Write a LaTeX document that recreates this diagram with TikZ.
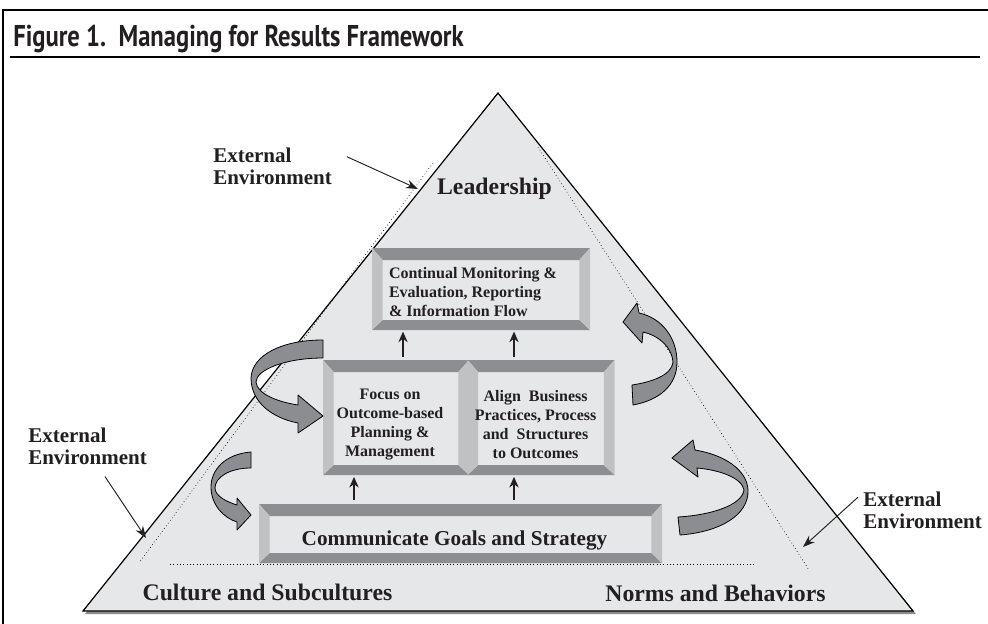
\documentclass[tikz,border=0pt]{standalone}
\usepackage{fontspec}
\setmainfont{Liberation Serif}
\newfontfamily\titlefont[FakeStretch=0.82]{PT Sans}
\usetikzlibrary{arrows.meta,positioning}
\definecolor{pyramid}{RGB}{230,231,232}
\definecolor{bevdark}{RGB}{141,142,145}
\definecolor{bevlight}{RGB}{192,193,195}
\definecolor{ribbon}{RGB}{140,141,144}
\definecolor{ink}{RGB}{35,31,32}
\newcommand{\bevelpaint}{%
  \path (path picture bounding box.north west) coordinate (bnw)
        (path picture bounding box.north east) coordinate (bne)
        (path picture bounding box.south west) coordinate (bsw)
        (path picture bounding box.south east) coordinate (bse);
  \fill[bevdark] (bnw) -- (bne) -- ([shift={(-8pt,-9pt)}]bne) -- ([shift={(8pt,-9pt)}]bnw) -- cycle;
  \fill[bevdark] (bsw) -- (bse) -- ([shift={(-8pt,7.5pt)}]bse) -- ([shift={(8pt,7.5pt)}]bsw) -- cycle;
  \fill[bevlight] (bnw) -- ([shift={(8pt,-9pt)}]bnw) -- ([shift={(8pt,7.5pt)}]bsw) -- (bsw) -- cycle;
  \fill[bevlight] (bne) -- ([shift={(-8pt,-9pt)}]bne) -- ([shift={(-8pt,7.5pt)}]bse) -- (bse) -- cycle;}
\tikzset{
  bevelnode/.style={rectangle, fill=pyramid, inner sep=0pt, path picture={\bevelpaint}},
  boxtext/.style={align=center, inner sep=0pt, text=ink, font=\bfseries\fontsize{12}{14.25}\selectfont},
  layer/.style={inner sep=0pt, text=ink, font=\bfseries\fontsize{17.8}{20}\selectfont},
  envlabel/.style={align=left, inner sep=0pt, anchor=west, text=ink, font=\bfseries\fontsize{15.75}{16.5}\selectfont},
  arrow/.style={>={Stealth[length=8pt,width=7pt]}, ->, line width=0.9pt, draw=ink},
  envarrow/.style={>={Stealth[length=9pt,width=6.5pt]}, ->, line width=0.7pt, draw=ink},
  ribbonarrow/.style={fill=ribbon, draw=black, line width=0.6pt, line join=round},
  guide/.style={dotted, line width=0.5pt}
}
\begin{document}
\begin{tikzpicture}[x=0.75pt,y=-0.75pt]
  \useasboundingbox (0,0) rectangle (988,624);
  \draw[line width=1.8pt] (3,624) -- (3,10) -- (988,10);
  \node[anchor=base west, inner sep=0pt, text=ink, font=\titlefont\bfseries\fontsize{22.5}{26}\selectfont] (title) at (13,47) {Figure 1.\ \ Managing for Results Framework};
  \draw[line width=0.8pt] (10,57) -- (980,57);

  \fill[black!45] (500,96) -- (85,614) -- (916,614) -- cycle;
  \filldraw[fill=pyramid, draw=black, line width=0.9pt] (498,93) -- (83,611) -- (913,611) -- cycle;
  \draw[guide] (433,163) -- (139,563);
  \draw[guide] (538,147) -- (809,570);
  \draw[guide] (170,564) -- (755,564);

  \node[layer] (leadership) at (494.5,189) {Leadership};
  \node[layer] (culture) at (267.5,592) {Culture and Subcultures};
  \node[layer] (norms) at (715.5,593) {Norms and Behaviors};

  \node[bevelnode, minimum width=163.5pt, minimum height=61.5pt] (monitor) at (481,289) {};
  \node[bevelnode, minimum width=109.5pt, minimum height=86.25pt] (focus) at (396,417.5) {};
  \node[bevelnode, minimum width=110.25pt, minimum height=86.25pt, right=-1.5pt of focus] (practices) {};
  \node[bevelnode, minimum width=302.25pt, minimum height=44.25pt] (comm) at (460.5,533.5) {};

  \node[boxtext, align=left, anchor=west] (monitortext) at ([shift={(12.75pt,-2.6pt)}]monitor.west) {Continual Monitoring \&\\Evaluation, Reporting\\\& Information Flow};
  \node[boxtext] (focustext) at ([shift={(-4.5pt,-5.25pt)}]focus.center) {Focus on\\Outcome-based\\Planning \&\\Management};
  \node[boxtext] (practicestext) at ([shift={(-4.1pt,-5.25pt)}]practices.center) {Align\ \ Business\\Practices, Process\\and\ \ Structures\\to Outcomes};
  \node[boxtext, font=\bfseries\fontsize{15.9}{18}\selectfont] (commtext) at ([shift={(-4.5pt,-5.6pt)}]comm.center) {Communicate Goals and Strategy};

  \coordinate (xa) at (403,0);
  \coordinate (xb) at (514,0);
  \coordinate (xc) at (354,0);
  \draw[arrow, shorten <=2.25pt, shorten >=1pt] (focus.north -| xa) -- (monitor.south -| xa);
  \draw[arrow, shorten <=2.25pt, shorten >=1pt] (practices.north -| xb) -- (monitor.south -| xb);
  \draw[arrow, shorten <=3pt, shorten >=1.2pt] (comm.north -| xc) -- (focus.south -| xc);
  \draw[arrow, shorten <=3pt, shorten >=1.2pt] (comm.north -| xb) -- (practices.south -| xb);

  \node[envlabel] (ext1) at (213,166) {External\\Environment};
  \node[envlabel] (ext2) at (28,446.5) {External\\Environment};
  \node[envlabel] (ext3) at (863,510.5) {External\\Environment};
  \coordinate (t1) at (418,189);
  \coordinate (t2) at (146,538);
  \coordinate (t3) at (803,547);
  \draw[envarrow] ([shift={(11pt,7pt)}]ext1.east) -- (t1);
  \draw[envarrow] ([shift={(13pt,-8.5pt)}]ext2.south) -- (t2);
  \draw[envarrow] ([shift={(-3.75pt,-4pt)}]ext3.north west) -- (t3);

  \filldraw[ribbonarrow] (323,340) .. controls (282,340) and (252,355) .. (251,378) .. controls (251,402) and (272,418) .. (298,423) -- (298,433) -- (323,416) -- (298,395) -- (298,405) .. controls (278,402) and (257,394) .. (256,382) .. controls (256,370) and (285,358) .. (323,358) -- cycle;
  \filldraw[ribbonarrow] (251,452) .. controls (225,454) and (211,470) .. (211,487) .. controls (211,505) and (224,518) .. (237,522) -- (237,530) -- (251,515) -- (237,498) -- (237,505) .. controls (227,502) and (215,496) .. (215,488) .. controls (215,477) and (230,468) .. (251,468) -- cycle;
  \filldraw[ribbonarrow] (623,322) -- (642,343) -- (643,332) .. controls (660,336) and (672,348) .. (673,362) .. controls (672,375) and (652,382) .. (632,385) -- (633,405) .. controls (660,400) and (677,385) .. (677,362) .. controls (677,338) and (662,318) .. (639,313) -- (637,303) -- cycle;
  \filldraw[ribbonarrow] (672,458) -- (698,477) -- (697,468) .. controls (720,470) and (742,478) .. (744,490) .. controls (742,505) and (712,515) .. (678,517) -- (680,535) .. controls (720,532) and (749,515) .. (748,490) .. controls (747,470) and (725,455) .. (695,450) -- (693,440) -- cycle;
\end{tikzpicture}
\end{document}
